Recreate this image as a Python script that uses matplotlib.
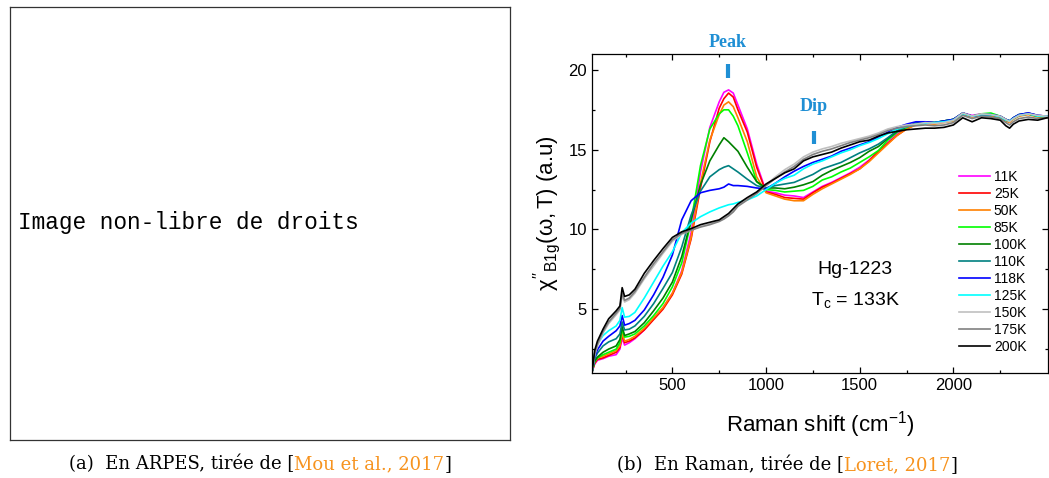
import matplotlib
matplotlib.use("Agg")
import matplotlib.pyplot as plt

plt.rcParams['font.family'] = ['Liberation Sans', 'DejaVu Sans']
plt.rcParams['mathtext.fontset'] = 'custom'
plt.rcParams['mathtext.rm'] = 'Liberation Sans'
plt.rcParams['mathtext.it'] = 'Liberation Sans'

# DATA
raman_shift = [72, 85, 100, 130, 160, 200, 220, 232, 245, 270, 300, 350, 400, 450, 500, 550,
               600, 650, 700, 750, 775, 800, 825, 850, 900, 950, 1000, 1050, 1100, 1150, 1200,
               1250, 1300, 1350, 1400, 1450, 1500, 1550, 1600, 1650, 1700, 1750, 1800, 1850,
               1900, 1950, 2000, 2050, 2100, 2150, 2200, 2250, 2280, 2300, 2320, 2350, 2400,
               2450, 2500]

chi_11K = [1.1, 1.55, 1.8, 1.9, 2.05, 2.15, 2.5, 3.2, 2.75, 2.9, 3.15, 3.7, 4.4, 5.1, 6.0, 7.4,
           9.8, 13.6, 16.4, 18.0, 18.6, 18.75, 18.55, 17.8, 16.3, 14.1, 12.4, 12.3, 12.15, 12.1, 12.0,
           12.35, 12.7, 12.95, 13.25, 13.55, 13.9, 14.35, 14.9, 15.45, 16.0, 16.4, 16.65, 16.75,
           16.7, 16.8, 16.9, 17.3, 17.15, 17.25, 17.2, 17.1, 16.9, 16.8, 17.0, 17.2, 17.3, 17.15, 17.1]
chi_25K = [1.1, 1.6, 1.85, 1.95, 2.1, 2.3, 2.6, 3.4, 2.9, 3.0, 3.2, 3.7, 4.35, 5.0, 5.9, 7.2,
           9.4, 12.6, 15.5, 17.6, 18.2, 18.55, 18.3, 17.5, 16.1, 13.9, 12.35, 12.2, 12.0, 11.95, 11.9,
           12.3, 12.65, 12.9, 13.2, 13.5, 13.8, 14.3, 14.9, 15.4, 15.9, 16.3, 16.6, 16.7,
           16.65, 16.75, 16.85, 17.25, 17.1, 17.2, 17.15, 17.05, 16.85, 16.75, 16.95, 17.15, 17.25, 17.1, 17.05]
chi_50K = [1.1, 1.7, 1.95, 2.05, 2.2, 2.4, 2.7, 3.5, 3.0, 3.1, 3.3, 3.8, 4.45, 5.1, 6.0, 7.3,
           9.5, 12.9, 15.6, 17.2, 17.8, 18.0, 17.7, 17.0, 15.5, 13.3, 12.3, 12.1, 11.9, 11.8, 11.8,
           12.2, 12.55, 12.85, 13.15, 13.45, 13.8, 14.25, 14.8, 15.35, 15.9, 16.3, 16.55, 16.65,
           16.6, 16.7, 16.8, 17.2, 17.05, 17.15, 17.1, 17.0, 16.8, 16.7, 16.9, 17.1, 17.2, 17.05, 17.0]
chi_85K = [1.1, 1.7, 1.95, 2.15, 2.3, 2.5, 2.9, 3.75, 3.25, 3.3, 3.45, 3.95, 4.6, 5.35, 6.4, 7.9,
           10.5, 14.0, 16.3, 17.25, 17.5, 17.5, 17.1, 16.5, 14.8, 13.0, 12.5, 12.45, 12.35, 12.4, 12.45,
           12.7, 13.1, 13.3, 13.6, 13.85, 14.2, 14.55, 14.95, 15.6, 16.1, 16.4, 16.65, 16.7,
           16.7, 16.8, 16.9, 17.3, 17.1, 17.25, 17.3, 17.1, 16.9, 16.8, 17.0, 17.2, 17.25, 17.1, 17.05]
chi_100K = [1.1, 1.75, 2.0, 2.3, 2.5, 2.7, 3.1, 3.9, 3.35, 3.45, 3.6, 4.15, 4.9, 5.7, 6.7, 8.3,
            10.6, 12.8, 14.3, 15.3, 15.75, 15.5, 15.2, 14.9, 13.9, 13.0, 12.6, 12.6, 12.55, 12.65, 12.8,
            13.0, 13.4, 13.7, 13.95, 14.2, 14.5, 14.9, 15.2, 15.7, 16.15, 16.45, 16.65, 16.7,
            16.7, 16.8, 16.9, 17.25, 17.1, 17.2, 17.2, 17.05, 16.85, 16.8, 16.95, 17.15, 17.25, 17.1, 17.05]
chi_110K = [1.1, 1.9, 2.25, 2.7, 2.95, 3.15, 3.45, 4.2, 3.7, 3.75, 3.95, 4.55, 5.35, 6.3, 7.3, 8.9,
            10.9, 12.4, 13.3, 13.75, 13.9, 14.0, 13.8, 13.6, 13.15, 12.75, 12.6, 12.75, 12.85, 12.95, 13.2,
            13.45, 13.8, 14.0, 14.2, 14.5, 14.8, 15.05, 15.35, 15.75, 16.2, 16.45, 16.65, 16.7,
            16.7, 16.8, 16.9, 17.3, 17.1, 17.2, 17.2, 17.1, 16.9, 16.8, 17.0, 17.2, 17.3, 17.15, 17.1]
chi_118K = [1.1, 2.0, 2.45, 3.0, 3.3, 3.65, 3.95, 4.6, 4.0, 4.1, 4.3, 4.95, 5.9, 7.0, 8.4, 10.6,
            11.8, 12.3, 12.45, 12.55, 12.65, 12.85, 12.75, 12.75, 12.7, 12.6, 12.55, 12.9, 13.3, 13.65, 13.95,
            14.2, 14.4, 14.6, 14.9, 15.1, 15.3, 15.5, 15.8, 16.1, 16.4, 16.6, 16.75, 16.75,
            16.7, 16.8, 16.9, 17.3, 17.1, 17.2, 17.2, 17.1, 16.9, 16.8, 17.0, 17.2, 17.3, 17.15, 17.1]
chi_125K = [1.1, 2.2, 2.8, 3.35, 3.65, 3.95, 4.3, 5.1, 4.5, 4.55, 4.8, 5.7, 6.7, 7.7, 8.6, 9.8,
            10.4, 10.8, 11.1, 11.35, 11.45, 11.55, 11.6, 11.7, 11.85, 12.1, 12.5, 12.9, 13.2, 13.4, 13.8,
            14.1, 14.3, 14.55, 14.8, 15.0, 15.25, 15.45, 15.7, 16.0, 16.3, 16.45, 16.6, 16.65,
            16.7, 16.75, 16.85, 17.25, 17.1, 17.2, 17.2, 17.05, 16.85, 16.8, 16.95, 17.15, 17.25, 17.1, 17.1]
chi_150K = [1.1, 2.1, 2.7, 3.5, 4.1, 4.65, 4.95, 5.85, 5.45, 5.6, 6.0, 6.9, 7.7, 8.5, 9.25, 9.7,
            9.95, 10.2, 10.35, 10.55, 10.7, 10.9, 11.15, 11.5, 11.9, 12.3, 12.8, 13.3, 13.75, 14.1, 14.55,
            14.85, 15.05, 15.2, 15.4, 15.55, 15.7, 15.85, 16.05, 16.3, 16.45, 16.55, 16.6, 16.7,
            16.65, 16.7, 16.85, 17.3, 17.1, 17.25, 17.2, 17.1, 16.9, 16.75, 16.95, 17.15, 17.25, 17.15, 17.1]
chi_175K = [1.1, 2.2, 2.8, 3.6, 4.2, 4.75, 5.05, 6.0, 5.55, 5.7, 6.1, 7.0, 7.85, 8.6, 9.35, 9.75,
            9.95, 10.15, 10.3, 10.5, 10.65, 10.85, 11.1, 11.45, 11.85, 12.25, 12.75, 13.2, 13.6, 13.95, 14.4,
            14.7, 14.9, 15.05, 15.25, 15.45, 15.6, 15.75, 15.95, 16.2, 16.35, 16.45, 16.5, 16.55,
            16.5, 16.55, 16.7, 17.15, 16.95, 17.1, 17.05, 16.95, 16.7, 16.55, 16.75, 16.95, 17.05, 16.95, 17.0]
chi_200K = [1.1, 2.4, 3.0, 3.75, 4.4, 4.9, 5.2, 6.35, 5.8, 5.9, 6.25, 7.25, 8.05, 8.8, 9.5, 9.85,
            10.05, 10.3, 10.45, 10.6, 10.8, 11.0, 11.3, 11.6, 12.0, 12.35, 12.85, 13.2, 13.55, 13.8, 14.3,
            14.55, 14.7, 14.85, 15.1, 15.3, 15.5, 15.6, 15.85, 16.05, 16.15, 16.25, 16.3, 16.35,
            16.35, 16.4, 16.55, 17.0, 16.75, 17.0, 16.95, 16.85, 16.5, 16.35, 16.6, 16.8, 16.9, 16.85, 17.0]

labels = ['11K', '25K', '50K', '85K', '100K', '110K', '118K', '125K', '150K', '175K', '200K']
colors = ['#ff00ff', '#ff0000', '#ff8000', '#00ff00', '#008000', '#008080',
          '#0000ff', '#00ffff', '#c0c0c0', '#808080', '#000000']
series = [chi_11K, chi_25K, chi_50K, chi_85K, chi_100K, chi_110K,
          chi_118K, chi_125K, chi_150K, chi_175K, chi_200K]

W, H = 1049, 478
fig = plt.figure(figsize=(W / 100, H / 100), dpi=100)

# left panel: placeholder box
ax0 = fig.add_axes([10 / W, 1 - 440 / H, 500 / W, 433 / H])
ax0.set_xticks([])
ax0.set_yticks([])
for s in ax0.spines.values():
    s.set_linewidth(0.9)
    s.set_color('#333333')
ax0.text(0.016, 0.503, "Image non-libre de droits", family='Liberation Mono',
         fontsize=16.4, va='center', ha='left', transform=ax0.transAxes)

# right panel: Raman spectra
ax = fig.add_axes([592 / W, 1 - 373 / H, 456 / W, 319 / H])
for y, lab, c in zip(series, labels, colors):
    ax.plot(raman_shift, y, color=c, lw=1.2, label=lab)

ax.set_xlim(71, 2505)
ax.set_ylim(1.0, 21.0)
ax.set_xticks([500, 1000, 1500, 2000])
ax.set_xticks([250, 750, 1250, 1750, 2250], minor=True)
ax.set_yticks([5, 10, 15, 20])
ax.set_yticks([2.5, 7.5, 12.5, 17.5], minor=True)
ax.tick_params(which='both', direction='in', top=True, right=True, labelsize=12, width=0.9)
ax.tick_params(which='major', length=4)
ax.tick_params(which='minor', length=2.2)
for s in ax.spines.values():
    s.set_linewidth(0.9)
ax.set_xlabel(r"Raman shift (cm$^{-1}$)", fontsize=16, labelpad=12)
ax.set_ylabel(r"$\chi''_{\mathrm{B1g}}(\omega,\mathrm{T})$ (a.u)", fontsize=16, labelpad=4)

ax.legend(loc='upper left', bbox_to_anchor=(0.805, 0.637), frameon=False, fontsize=10,
          handlelength=2.2, handletextpad=0.3, labelspacing=0.22, borderpad=0, borderaxespad=0)

ax.text(0.577, 0.326, "Hg-1223", fontsize=14, ha='center', va='center', transform=ax.transAxes)
ax.text(0.577, 0.229, r"T$_\mathrm{c}$ = 133K", fontsize=14, ha='center', va='center',
        transform=ax.transAxes)

# peak / dip markers
blue = '#1f8fd4'
peak_x, dip_x = 797, 1256
ax.plot([peak_x, peak_x], [19.5, 20.4], color=blue, lw=3, solid_capstyle='butt')
ax.plot([dip_x, dip_x], [15.35, 16.2], color=blue, lw=3, solid_capstyle='butt')
ax.text(peak_x, 21.7, "Peak", color=blue, family='Liberation Serif', fontweight='bold',
        fontsize=13, ha='center', va='center', clip_on=False)
ax.text(dip_x, 17.7, "Dip", color=blue, family='Liberation Serif', fontweight='bold',
        fontsize=13, ha='center', va='center')

# captions with coloured citations
cite = '#f7931e'
renderer = fig.canvas.get_renderer()


def caption(xc, yc, parts):
    items = []
    for s, c in parts:
        t = fig.text(0, 1 - yc / H, s, color=c, family='DejaVu Serif', fontsize=13, va='center')
        items.append(t)
    widths = [t.get_window_extent(renderer).width for t in items]
    x = xc - sum(widths) / 2
    for t, w in zip(items, widths):
        t.set_x(x / W)
        x += w


caption(260, 464, [("(a)  En ARPES, tirée de [", 'black'), ("Mou et al., 2017", cite), ("]", 'black')])
caption(787, 465, [("(b)  En Raman, tirée de [", 'black'), ("Loret, 2017", cite), ("]", 'black')])

fig.savefig("out.png", dpi=100)
